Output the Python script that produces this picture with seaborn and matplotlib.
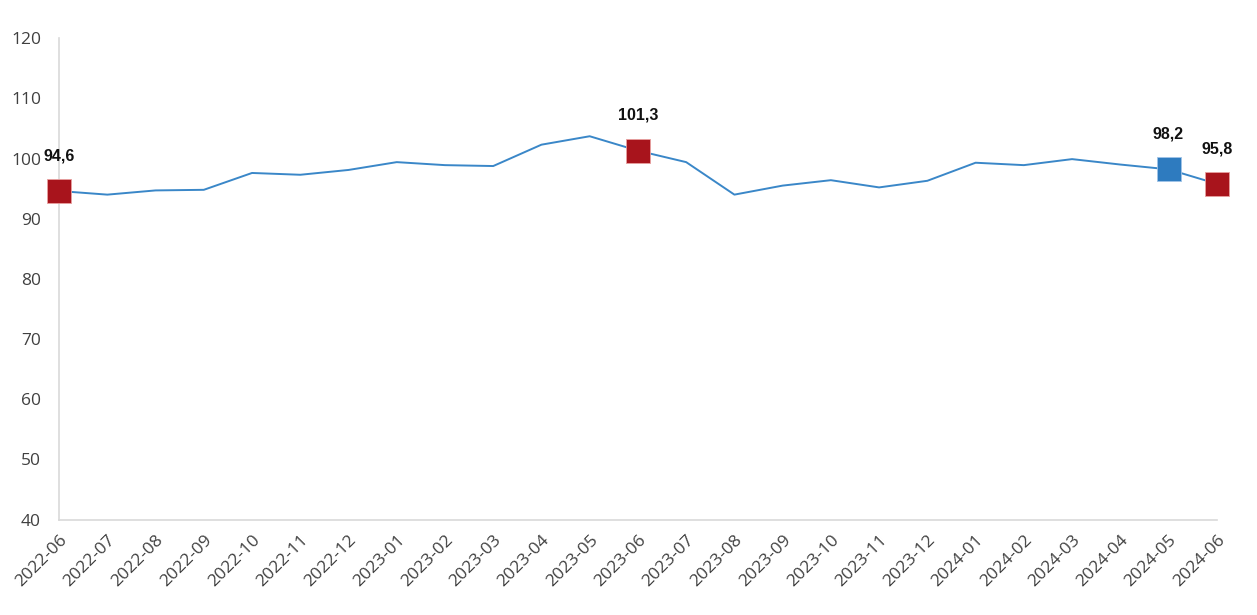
import numpy as np
import pandas as pd
import matplotlib
matplotlib.use("Agg")
import matplotlib.pyplot as plt
import seaborn as sns

# --- data ---
months = ["2022-06", "2022-07", "2022-08", "2022-09", "2022-10", "2022-11", "2022-12",
          "2023-01", "2023-02", "2023-03", "2023-04", "2023-05", "2023-06", "2023-07",
          "2023-08", "2023-09", "2023-10", "2023-11", "2023-12", "2024-01", "2024-02",
          "2024-03", "2024-04", "2024-05", "2024-06"]
values = [94.6, 94.0, 94.7, 94.8, 97.6, 97.3, 98.1,
          99.4, 98.9, 98.75, 102.3, 103.7, 101.3, 99.4,
          94.0, 95.5, 96.4, 95.2, 96.3, 99.3, 98.9,
          99.9, 99.0, 98.2, 95.8]
highlight_red = ["2022-06", "2023-06", "2024-06"]
highlight_blue = ["2024-05"]

df = pd.DataFrame({"month": months, "value": values})
df["pos"] = np.arange(len(df))

sns.set_style("white")
plt.rcParams["font.family"] = ["Open Sans", "DejaVu Sans"]

fig = plt.figure(figsize=(12.57, 6.15), dpi=100)
ax = fig.add_axes([0.047, 0.155, 0.921, 0.783])

sns.lineplot(data=df, x="pos", y="value", color="#3a87c8", linewidth=1.4, ax=ax)

red = df[df["month"].isin(highlight_red)]
blue = df[df["month"].isin(highlight_blue)]
sns.scatterplot(data=red, x="pos", y="value", marker="s", s=280, color="#a8141c",
                edgecolor="#e8a0a0", linewidth=0.6, zorder=5, clip_on=False, ax=ax)
sns.scatterplot(data=blue, x="pos", y="value", marker="s", s=280, color="#2e7bbf",
                edgecolor="#a0c4e8", linewidth=0.6, zorder=5, clip_on=False, ax=ax)

for _, r in pd.concat([red, blue]).iterrows():
    ax.annotate(f"{r['value']:.1f}".replace(".", ","), (r["pos"], r["value"]),
                xytext=(0, 20), textcoords="offset points", ha="center", va="bottom",
                fontsize=11.5, fontweight="bold", family="Liberation Sans", color="#111111",
                annotation_clip=False)

ax.set_xlim(0, len(df) - 1)
ax.set_ylim(40, 120)
ax.set_yticks(range(40, 121, 10))
ax.set_xticks(df["pos"])
ax.set_xticklabels(df["month"], rotation=45, ha="right", rotation_mode="anchor")
ax.tick_params(axis="both", length=0, labelsize=12.5, colors="#404040")
ax.tick_params(axis="y", pad=13)
ax.tick_params(axis="x", pad=9)
ax.set_xlabel("")
ax.set_ylabel("")

for side in ["top", "right"]:
    ax.spines[side].set_visible(False)
for side in ["left", "bottom"]:
    ax.spines[side].set_color("#d9d9d9")
    ax.spines[side].set_linewidth(1.2)

fig.savefig("out.png", dpi=100)
